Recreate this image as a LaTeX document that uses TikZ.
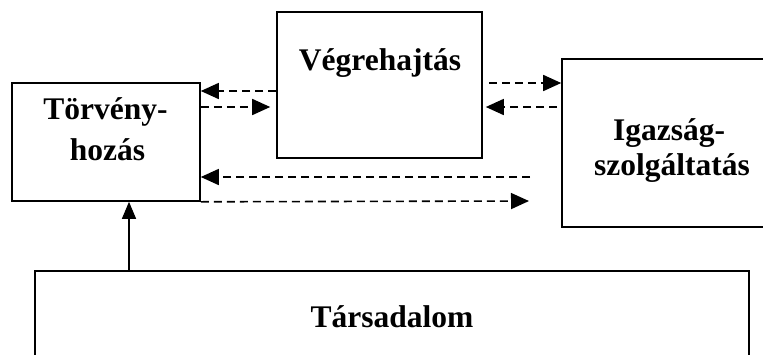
\documentclass[tikz,border=0pt]{standalone}
\usepackage{fontspec}
\setmainfont{Liberation Serif}
\usetikzlibrary{arrows.meta}
\begin{document}
\begin{tikzpicture}[x=1pt,y=-1pt,
  box/.style={draw, line width=1.6pt, rectangle, inner sep=0pt},
  lbl/.style={font=\fontsize{31.5}{34}\selectfont\bfseries, anchor=base, inner sep=0pt},
  da/.style={line width=1.6pt, dash pattern=on 8pt off 5pt, -{Triangle[length=18pt,width=16pt]}},
  sa/.style={line width=1.2pt, -{Triangle[length=17pt,width=14pt]}}]
\clip (0,0) rectangle (763,354);
\fill[white] (0,0) rectangle (763,354);
% boxes
\node[box, minimum width=188pt, minimum height=118pt] (T) at (106,142) {};
\node[box, minimum width=205pt, minimum height=146pt] (V) at (379.5,85) {};
\node[box, minimum width=208pt, minimum height=168pt] (I) at (666,143) {};
\node[box, minimum width=714pt, minimum height=120pt] (S) at (392,331) {};
% labels
\node[lbl] (t1) at (105.5,119) {Törvény-};
\node[lbl] (t2) at (107.5,160) {hozás};
\node[lbl] (v1) at (380,70.7) {Végrehajtás};
\node[lbl] (i1) at (669,140) {Igazság-};
\node[lbl] (i2) at (672,175) {szolgáltatás};
\node[lbl] (s1) at (392,327) {Társadalom};
% free ends
\coordinate (e1) at (530,177);
\coordinate (e2) at (529,201);
% connectors
\draw[da] (V.west |- 0,91) -- (T.east |- 0,91);
\draw[da, shorten >=6pt] (T.east |- 0,107) -- (V.west |- 0,107);
\draw[da, shorten <=6pt] (V.east |- 0,83) -- (I.west |- 0,83);
\draw[da, shorten <=4pt, shorten >=3pt] (I.west |- 0,107) -- (V.east |- 0,107);
\draw[da] (e1) -- (T.east |- e1);
\draw[da] (T.south east) -- (e2);
\draw[sa] (S.north -| 129,0) -- (T.south -| 129,0);
\end{tikzpicture}
\end{document}
